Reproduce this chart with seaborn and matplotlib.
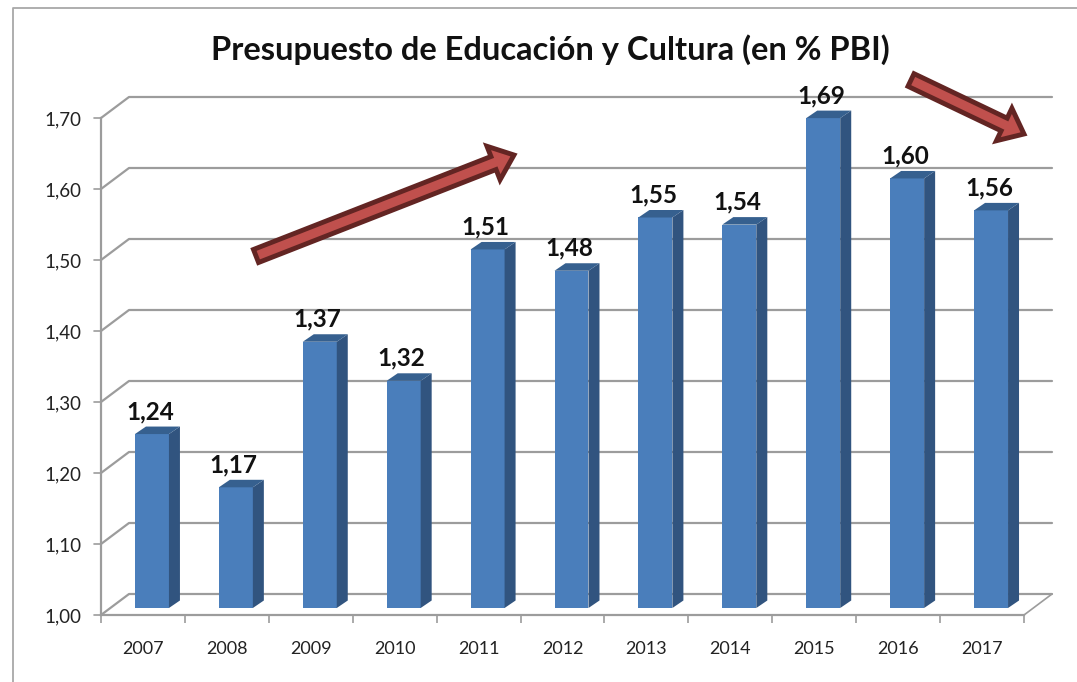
import numpy as np
import pandas as pd
import matplotlib
matplotlib.use('Agg')
import matplotlib.pyplot as plt
import seaborn as sns
from matplotlib.lines import Line2D
from matplotlib.patches import FancyArrow, Polygon
from matplotlib.transforms import Affine2D

years = ['2007', '2008', '2009', '2010', '2011', '2012', '2013', '2014', '2015', '2016', '2017']
values = [1.245, 1.17, 1.375, 1.32, 1.505, 1.475, 1.55, 1.54, 1.69, 1.605, 1.56]
labels = ['1,24', '1,17', '1,37', '1,32', '1,51', '1,48', '1,55', '1,54', '1,69', '1,60', '1,56']
yticks = [1.0, 1.1, 1.2, 1.3, 1.4, 1.5, 1.6, 1.7]
ytick_labels = ['1,00', '1,10', '1,20', '1,30', '1,40', '1,50', '1,60', '1,70']

W, H = 1077, 682
GREY = '#9c9c9c'
FRONT = '#4a7ebb'
SIDE = '#31547f'
TOP = '#36608f'

sns.set_theme(style='white')
plt.rcParams['font.family'] = ['Lato', 'DejaVu Sans']

fig = plt.figure(figsize=(W / 100, H / 100), dpi=100)
ax = fig.add_axes([101 / W, (H - 615) / H, 923 / W, 497 / H])

df = pd.DataFrame({'year': years, 'value': values})
sns.barplot(data=df, x='year', y='value', color=FRONT, saturation=1, width=0.405, ax=ax, zorder=3)
ax.set_xlim(-0.5, 10.5)
ax.set_ylim(1.0, 1.7)
ax.set_xlabel('')
ax.set_ylabel('')

# depth of the fake 3d, in pixels
bar_shift = Affine2D().translate(9, 7)
dx, dy = 11, 7.5

to_px = ax.transData

# back wall lines and the diagonals on the left
for v in yticks:
    x0, y0 = to_px.transform((-0.5, v))
    x1, y1 = to_px.transform((10.5, v))
    pts = [(x0, y0), (x0 + 28, y0 + 21), (x1 + 28, y0 + 21)]
    ax.add_line(Line2D(*zip(*pts), transform=None, color=GREY, lw=1.6, clip_on=False, zorder=1))
    ax.add_line(Line2D([x0 - 7, x0], [y0, y0], transform=None, color=GREY, lw=1.2, clip_on=False, zorder=1))

# floor edge on the right
x1, y1 = to_px.transform((10.5, 1.0))
ax.add_line(Line2D([x1, x1 + 28], [y1, y1 + 21], transform=None, color=GREY, lw=1.2, clip_on=False, zorder=1))

# bars start at the axis floor, moved back onto it, plus top and side faces
for bar, lab in zip(ax.patches, labels):
    top = bar.get_height()
    bar.set_y(1.0)
    bar.set_height(top - 1.0)
    x0, y0 = to_px.transform((bar.get_x(), 1.0))
    x1, y1 = to_px.transform((bar.get_x() + bar.get_width(), top))
    x0, x1 = x0 + 9, x1 + 9
    y0, y1 = y0 + 7, y1 + 7
    bar.set_transform(to_px + bar_shift)
    bar.set_clip_on(False)
    bar.set_linewidth(0)
    ax.add_patch(Polygon([(x1, y0), (x1 + dx, y0 + dy), (x1 + dx, y1 + dy), (x1, y1)],
                         transform=None, fc=SIDE, ec='none', clip_on=False, zorder=3))
    ax.add_patch(Polygon([(x0, y1), (x0 + dx, y1 + dy), (x1 + dx, y1 + dy), (x1, y1)],
                         transform=None, fc=TOP, ec='none', clip_on=False, zorder=3))
    ax.text((x0 + x1) / 2 - 2, y1 + 11, lab, transform=None, ha='center', va='bottom',
            fontsize=17.5, fontweight='bold', color='#111111', zorder=5)

for name in ['top', 'right']:
    ax.spines[name].set_visible(False)
for name in ['left', 'bottom']:
    ax.spines[name].set_color(GREY)
    ax.spines[name].set_linewidth(1.6)
    ax.spines[name].set_zorder(2)

ax.set_yticks(yticks)
ax.set_yticklabels(ytick_labels, fontsize=13.5, color='#222222')
ax.tick_params(axis='y', left=False, pad=8)
ax.set_xticks(range(len(years)))
ax.set_xticklabels(years, fontsize=13, color='#222222')
ax.tick_params(axis='x', which='major', bottom=False, pad=13)
ax.set_xticks(np.arange(-0.5, 11), minor=True)
ax.tick_params(axis='x', which='minor', bottom=True, length=6, width=1.2, color=GREY)

fig.text(550 / W, 1 - 50 / H, 'Presupuesto de Educación y Cultura (en % PBI)', ha='center', va='center',
         fontsize=23.5, fontweight='bold', color='#111111')

# outer frame, only top and left are inside the crop
fig.add_artist(Line2D([13 / W, 13 / W, 1], [0, 1 - 8 / H, 1 - 8 / H], transform=fig.transFigure,
                      color='#a8a8a8', lw=1.3))

# hand drawn arrows, in image pixels
for (xa, ya), (xb, yb) in [((256, 256), (514, 155)), ((911, 80), (1024, 134))]:
    arrow = FancyArrow(xa, H - ya, xb - xa, ya - yb, width=14, head_width=36, head_length=22,
                       length_includes_head=True, transform=None, fc='#c0504d', ec='#632523',
                       lw=3.5, joinstyle='miter', zorder=6, clip_on=False)
    fig.add_artist(arrow)

fig.savefig('out.png', dpi=100)
